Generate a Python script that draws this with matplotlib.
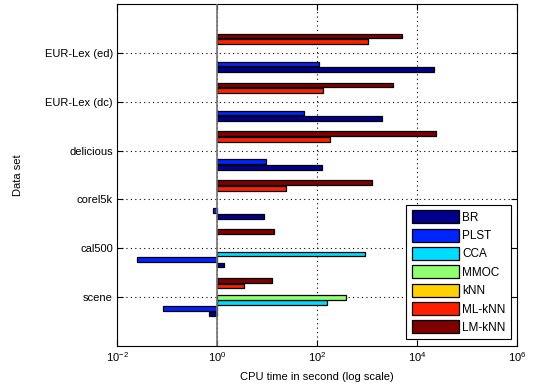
import matplotlib
matplotlib.use('Agg')
import matplotlib.pyplot as plt
import numpy as np

plt.rcParams['font.family'] = ['Liberation Sans', 'DejaVu Sans']
plt.rcParams['mathtext.fontset'] = 'custom'
plt.rcParams['mathtext.rm'] = 'Liberation Sans'

nan = np.nan

# data sets, bottom to top
datasets = ['scene', 'cal500', 'corel5k', 'delicious', 'EUR-Lex (dc)', 'EUR-Lex (ed)']
methods = ['BR', 'PLST', 'CCA', 'MMOC', 'kNN', 'ML-kNN', 'LM-kNN']

# CPU time (seconds)
br    = [0.7,   1.38,  8.7,  127,   2030, 22000]
plst  = [0.085, 0.025, 0.82, 9.5,   55,   110]
cca   = [162,   910,   nan,  nan,   nan,  nan]
mmoc  = [385,   nan,   nan,  nan,   nan,  nan]
knn   = [nan,   nan,   nan,  nan,   nan,  nan]
mlknn = [3.5,   nan,   24,   182,   132,  1060]
lmknn = [12.6,  13.8,  1280, 24400, 3350, 5100]

series = [br, plst, cca, mmoc, knn, mlknn, lmknn]
colors = ['#00008c', '#0024ff', '#00dcff', '#90ff70', '#ffd000', '#ff2000', '#800000']

fig = plt.figure(figsize=(5.33, 3.92), dpi=100)
ax = fig.add_axes([0.2195, 0.1173, 0.7505, 0.8725])

ypos = np.arange(1, len(datasets) + 1)
step = 0.8 / len(methods)
for i, (vals, col, name) in enumerate(zip(series, colors, methods)):
    v = np.array(vals, dtype=float)
    off = (i - 3) * step
    ax.barh(ypos + off, v - 1, left=1, height=step * 0.85, color=col,
            edgecolor='black', linewidth=0.9, label=name)

ax.axvline(1, color='0.45', lw=1.2, zorder=3)

ax.set_xscale('log')
ax.set_xlim(1e-2, 1e6)
ax.set_ylim(0, 7)
ax.set_xticks([1e-2, 1e0, 1e2, 1e4, 1e6])
ax.xaxis.set_minor_locator(matplotlib.ticker.NullLocator())
ax.set_yticks(ypos)
ax.set_yticklabels(datasets)
ax.tick_params(direction='in', top=True, right=True, labelsize=8, length=4, width=0.8, pad=3)
ax.grid(True, linestyle=(0, (1, 3)), color='black', linewidth=0.8)
ax.set_axisbelow(True)
for s in ax.spines.values():
    s.set_linewidth(0.8)

ax.set_xlabel('CPU time in second (log scale)', fontsize=8)
ax.set_ylabel('Data set', fontsize=8)
ax.xaxis.set_label_coords(0.5, -0.075)
ax.yaxis.set_label_coords(-0.235, 0.5)

leg = ax.legend(loc='lower right', bbox_to_anchor=(0.985, 0.02), borderaxespad=0,
                fontsize=8.5, handlelength=4.0, handleheight=1.3, labelspacing=0.42,
                handletextpad=0.3, borderpad=0.45, fancybox=False, framealpha=1)
leg.get_frame().set_edgecolor('black')
leg.get_frame().set_linewidth(0.8)

fig.savefig('out.png', dpi=100)
